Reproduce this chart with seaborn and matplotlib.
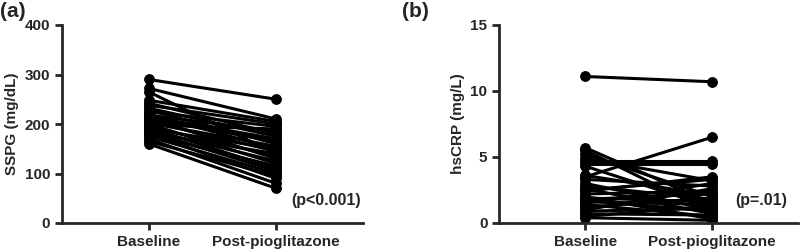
import pandas as pd
import matplotlib.pyplot as plt
import seaborn as sns

# Paired values (one entry per subject)
times = ['Baseline', 'Post-pioglitazone']

sspg_baseline = [290, 272, 265, 248, 242, 238, 232, 228, 225, 220, 218, 215, 212, 210, 205,
                 202, 200, 198, 195, 192, 190, 188, 185, 182, 180, 178, 175, 170, 165, 160]
sspg_post = [250, 210, 140, 205, 180, 200, 175, 160, 195, 150, 185, 170, 130, 165, 145,
             155, 120, 190, 135, 110, 150, 125, 105, 140, 90, 115, 100, 80, 95, 70]

crp_baseline = [11.1, 5.7, 5.5, 5.2, 4.9, 4.7, 4.5, 4.3, 3.5, 3.3, 3.0, 2.8, 2.6, 2.4, 2.2,
                2.0, 1.9, 1.8, 1.7, 1.6, 1.5, 1.4, 1.2, 1.0, 0.9, 0.7, 0.5, 0.4, 3.6, 2.5]
crp_post = [10.7, 1.5, 0.8, 2.0, 3.2, 4.7, 4.5, 1.2, 6.5, 2.8, 1.0, 1.8, 0.7, 3.5, 2.4,
            0.3, 1.6, 2.2, 0.9, 1.4, 3.0, 0.5, 1.9, 2.6, 1.1, 0.6, 1.3, 0.2, 2.1, 3.3]

sspg_ticks = [0, 100, 200, 300, 400]
crp_ticks = [0, 5, 10, 15]


def long_form(before, after):
    n = len(before)
    return pd.DataFrame({
        'subject': list(range(n)) * 2,
        'time': [times[0]] * n + [times[1]] * n,
        'value': list(before) + list(after),
    })


sns.set_style('ticks')
plt.rcParams['font.family'] = ['Liberation Sans', 'DejaVu Sans']
plt.rcParams['font.weight'] = 'bold'

fig = plt.figure(figsize=(8, 2.5), dpi=100)
ax1 = fig.add_axes([0.0775, 0.108, 0.376, 0.792])
ax2 = fig.add_axes([0.624, 0.108, 0.374, 0.792])

panels = [
    (ax1, sspg_baseline, sspg_post, sspg_ticks, 'SSPG (mg/dL)', '(p<0.001)', 46),
    (ax2, crp_baseline, crp_post, crp_ticks, 'hsCRP (mg/L)', '(p=.01)', 1.7),
]

for ax, before, after, yticks, ylabel, ptext, py in panels:
    df = long_form(before, after)
    sns.lineplot(data=df, x='time', y='value', units='subject', estimator=None,
                 color='black', marker='o', markersize=7, markeredgecolor='black',
                 linewidth=2.2, ax=ax, legend=False)
    ax.set_xlim(-0.68, 1.68)
    ax.set_ylim(yticks[0], yticks[-1])
    ax.set_yticks(yticks)
    ax.set_xlabel('')
    ax.set_ylabel(ylabel, fontsize=11, fontweight='bold')
    ax.tick_params(width=2, length=5, labelsize=11)
    for lab in ax.get_xticklabels() + ax.get_yticklabels():
        lab.set_fontweight('bold')
    sns.despine(ax=ax)
    for side in ['left', 'bottom']:
        ax.spines[side].set_linewidth(2)
    ax.text(1.39, py, ptext, ha='center', va='center', fontsize=11.5, fontweight='bold')

fig.text(0.0, 0.955, '(a)', fontsize=15, fontweight='bold', va='center')
fig.text(0.503, 0.955, '(b)', fontsize=15, fontweight='bold', va='center')

fig.savefig('out.png', dpi=100)
